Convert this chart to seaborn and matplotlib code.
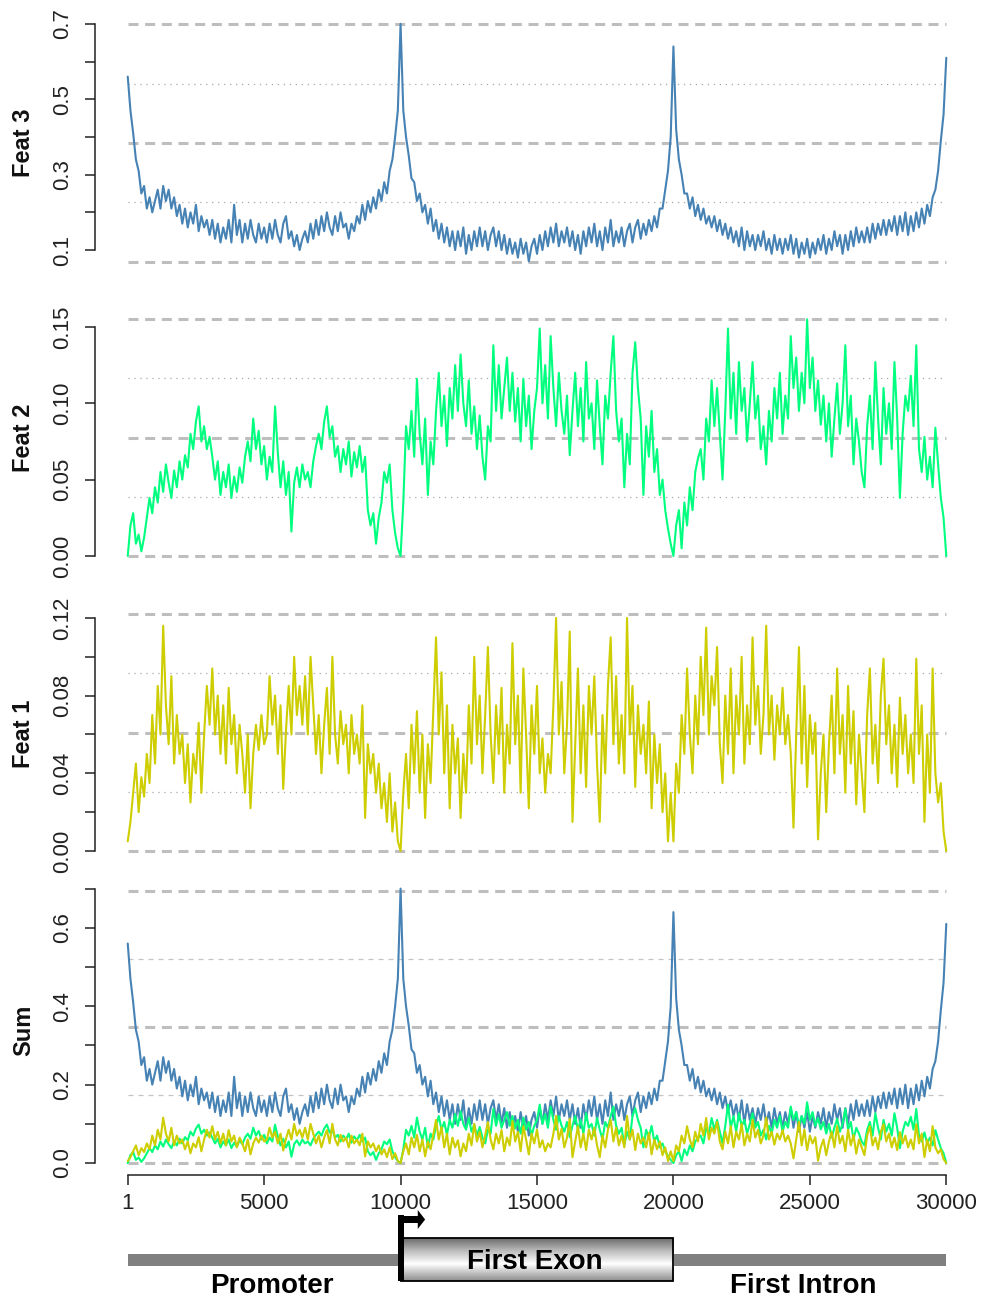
import numpy as np
import pandas as pd
import matplotlib
matplotlib.use("Agg")
import matplotlib.pyplot as plt
import seaborn as sns
from matplotlib.patches import Rectangle, Polygon
from matplotlib.colors import LinearSegmentedColormap

# ---------------- data (one value every 100 positions) ----------------
positions = [1] + list(range(100, 30001, 100))

feat3 = [
    0.56, 0.47, 0.41, 0.34, 0.31, 0.25, 0.27, 0.21, 0.24, 0.20,
    0.23, 0.26, 0.21, 0.27, 0.23, 0.26, 0.21, 0.24, 0.19, 0.22,
    0.17, 0.21, 0.16, 0.20, 0.17, 0.22, 0.15, 0.19, 0.16, 0.18,
    0.14, 0.18, 0.13, 0.17, 0.12, 0.16, 0.13, 0.18, 0.12, 0.22,
    0.14, 0.18, 0.12, 0.17, 0.13, 0.18, 0.14, 0.12, 0.17, 0.13,
    0.16, 0.12, 0.17, 0.13, 0.18, 0.14, 0.12, 0.17, 0.19, 0.13,
    0.15, 0.11, 0.14, 0.10, 0.13, 0.15, 0.12, 0.17, 0.13, 0.18,
    0.14, 0.19, 0.15, 0.20, 0.16, 0.14, 0.19, 0.15, 0.20, 0.16,
    0.17, 0.13, 0.17, 0.15, 0.19, 0.17, 0.22, 0.18, 0.23, 0.20,
    0.24, 0.21, 0.26, 0.23, 0.28, 0.25, 0.31, 0.34, 0.40, 0.47,
    0.70, 0.47, 0.40, 0.35, 0.29, 0.28, 0.23, 0.25, 0.20, 0.22,
    0.17, 0.21, 0.15, 0.18, 0.13, 0.17, 0.12, 0.16, 0.11, 0.15,
    0.10, 0.15, 0.11, 0.16, 0.09, 0.14, 0.10, 0.15, 0.11, 0.16,
    0.11, 0.15, 0.10, 0.14, 0.16, 0.11, 0.15, 0.10, 0.14, 0.09,
    0.13, 0.09, 0.12, 0.08, 0.13, 0.09, 0.12, 0.07, 0.11, 0.13,
    0.09, 0.14, 0.10, 0.15, 0.11, 0.16, 0.12, 0.17, 0.11, 0.15,
    0.12, 0.16, 0.11, 0.15, 0.10, 0.14, 0.09, 0.15, 0.11, 0.16,
    0.12, 0.17, 0.11, 0.15, 0.10, 0.16, 0.12, 0.18, 0.11, 0.15,
    0.12, 0.16, 0.11, 0.15, 0.17, 0.12, 0.16, 0.18, 0.13, 0.17,
    0.14, 0.18, 0.15, 0.19, 0.16, 0.21, 0.21, 0.26, 0.31, 0.40,
    0.64, 0.42, 0.34, 0.30, 0.25, 0.25, 0.21, 0.24, 0.19, 0.22,
    0.18, 0.21, 0.17, 0.19, 0.16, 0.19, 0.15, 0.18, 0.14, 0.17,
    0.13, 0.16, 0.12, 0.15, 0.11, 0.16, 0.10, 0.15, 0.11, 0.14,
    0.10, 0.14, 0.11, 0.15, 0.10, 0.13, 0.09, 0.14, 0.10, 0.13,
    0.09, 0.13, 0.10, 0.14, 0.09, 0.13, 0.08, 0.12, 0.09, 0.13,
    0.08, 0.12, 0.09, 0.13, 0.10, 0.14, 0.09, 0.13, 0.10, 0.15,
    0.11, 0.14, 0.09, 0.14, 0.10, 0.15, 0.11, 0.16, 0.12, 0.15,
    0.12, 0.16, 0.12, 0.17, 0.13, 0.17, 0.14, 0.18, 0.14, 0.18,
    0.15, 0.19, 0.14, 0.19, 0.15, 0.20, 0.14, 0.19, 0.15, 0.20,
    0.16, 0.21, 0.17, 0.22, 0.19, 0.24, 0.26, 0.31, 0.39, 0.46,
    0.61,
]

feat2 = [
    0.000, 0.020, 0.028, 0.008, 0.014, 0.003, 0.012, 0.025, 0.038, 0.028,
    0.045, 0.035, 0.055, 0.042, 0.060, 0.048, 0.038, 0.056, 0.045, 0.062,
    0.050, 0.066, 0.058, 0.080, 0.070, 0.088, 0.098, 0.075, 0.085, 0.070,
    0.078, 0.065, 0.050, 0.062, 0.040, 0.055, 0.045, 0.060, 0.038, 0.052,
    0.042, 0.058, 0.048, 0.065, 0.075, 0.062, 0.090, 0.070, 0.082, 0.060,
    0.072, 0.050, 0.065, 0.055, 0.098, 0.068, 0.045, 0.062, 0.040, 0.055,
    0.016, 0.048, 0.058, 0.045, 0.060, 0.050, 0.055, 0.045, 0.062, 0.072,
    0.080, 0.070, 0.088, 0.098, 0.078, 0.085, 0.065, 0.072, 0.055, 0.070,
    0.060, 0.075, 0.052, 0.068, 0.058, 0.072, 0.055, 0.065, 0.030, 0.020,
    0.028, 0.008, 0.025, 0.035, 0.055, 0.048, 0.060, 0.030, 0.015, 0.005,
    0.000, 0.035, 0.085, 0.070, 0.095, 0.065, 0.116, 0.080, 0.060, 0.090,
    0.040, 0.075, 0.060, 0.095, 0.120, 0.085, 0.105, 0.072, 0.110, 0.090,
    0.125, 0.095, 0.132, 0.100, 0.085, 0.115, 0.080, 0.098, 0.070, 0.092,
    0.065, 0.050, 0.085, 0.075, 0.138, 0.095, 0.125, 0.090, 0.110, 0.130,
    0.095, 0.120, 0.088, 0.110, 0.075, 0.116, 0.085, 0.105, 0.070, 0.095,
    0.110, 0.149, 0.100, 0.125, 0.090, 0.144, 0.110, 0.085, 0.120, 0.095,
    0.080, 0.105, 0.066, 0.095, 0.120, 0.085, 0.110, 0.075, 0.127, 0.090,
    0.100, 0.070, 0.115, 0.085, 0.060, 0.105, 0.090, 0.120, 0.144, 0.095,
    0.075, 0.090, 0.045, 0.080, 0.060, 0.120, 0.140, 0.110, 0.090, 0.040,
    0.085, 0.065, 0.095, 0.055, 0.070, 0.040, 0.050, 0.030, 0.018, 0.008,
    0.000, 0.020, 0.030, 0.005, 0.035, 0.020, 0.045, 0.030, 0.055, 0.064,
    0.070, 0.050, 0.090, 0.075, 0.115, 0.085, 0.110, 0.080, 0.050, 0.095,
    0.149, 0.090, 0.120, 0.080, 0.127, 0.095, 0.110, 0.075, 0.100, 0.127,
    0.090, 0.105, 0.070, 0.085, 0.060, 0.095, 0.075, 0.110, 0.090, 0.120,
    0.080, 0.105, 0.090, 0.144, 0.110, 0.130, 0.095, 0.120, 0.100, 0.155,
    0.110, 0.130, 0.095, 0.115, 0.086, 0.105, 0.075, 0.100, 0.065, 0.090,
    0.113, 0.080, 0.100, 0.138, 0.085, 0.105, 0.060, 0.090, 0.075, 0.055,
    0.045, 0.085, 0.105, 0.070, 0.127, 0.090, 0.060, 0.110, 0.080, 0.100,
    0.070, 0.127, 0.090, 0.038, 0.080, 0.105, 0.095, 0.118, 0.085, 0.138,
    0.070, 0.055, 0.078, 0.050, 0.065, 0.045, 0.084, 0.060, 0.038, 0.025,
    0.000,
]

feat1 = [
    0.005, 0.015, 0.030, 0.045, 0.020, 0.038, 0.028, 0.050, 0.035, 0.070,
    0.045, 0.085, 0.060, 0.116, 0.075, 0.055, 0.090, 0.045, 0.070, 0.050,
    0.060, 0.035, 0.055, 0.025, 0.050, 0.040, 0.066, 0.030, 0.060, 0.085,
    0.065, 0.094, 0.060, 0.080, 0.050, 0.075, 0.045, 0.084, 0.055, 0.070,
    0.040, 0.065, 0.050, 0.030, 0.060, 0.022, 0.050, 0.065, 0.052, 0.070,
    0.055, 0.060, 0.090, 0.065, 0.080, 0.050, 0.075, 0.032, 0.062, 0.085,
    0.060, 0.100, 0.070, 0.085, 0.065, 0.090, 0.060, 0.100, 0.075, 0.050,
    0.070, 0.040, 0.065, 0.084, 0.050, 0.100, 0.060, 0.045, 0.072, 0.055,
    0.065, 0.040, 0.070, 0.050, 0.060, 0.045, 0.075, 0.017, 0.055, 0.040,
    0.050, 0.030, 0.045, 0.022, 0.035, 0.015, 0.040, 0.010, 0.025, 0.005,
    0.000, 0.030, 0.050, 0.022, 0.065, 0.040, 0.072, 0.030, 0.060, 0.017,
    0.055, 0.035, 0.072, 0.110, 0.060, 0.092, 0.040, 0.075, 0.022, 0.065,
    0.040, 0.058, 0.017, 0.050, 0.030, 0.075, 0.045, 0.100, 0.055, 0.080,
    0.040, 0.070, 0.105, 0.060, 0.035, 0.075, 0.050, 0.084, 0.030, 0.065,
    0.045, 0.107, 0.055, 0.080, 0.030, 0.094, 0.060, 0.022, 0.075, 0.050,
    0.085, 0.040, 0.058, 0.030, 0.050, 0.040, 0.075, 0.120, 0.060, 0.087,
    0.040, 0.065, 0.113, 0.015, 0.055, 0.094, 0.040, 0.075, 0.033, 0.085,
    0.060, 0.090, 0.045, 0.015, 0.070, 0.040, 0.085, 0.110, 0.055, 0.090,
    0.045, 0.070, 0.040, 0.120, 0.060, 0.085, 0.033, 0.075, 0.050, 0.065,
    0.040, 0.077, 0.022, 0.060, 0.035, 0.055, 0.020, 0.040, 0.005, 0.030,
    0.005, 0.045, 0.030, 0.070, 0.050, 0.094, 0.060, 0.040, 0.080, 0.055,
    0.100, 0.070, 0.115, 0.060, 0.090, 0.075, 0.105, 0.055, 0.035, 0.080,
    0.050, 0.094, 0.040, 0.080, 0.060, 0.100, 0.045, 0.075, 0.055, 0.110,
    0.065, 0.085, 0.050, 0.070, 0.116, 0.060, 0.080, 0.047, 0.075, 0.060,
    0.084, 0.055, 0.070, 0.050, 0.012, 0.060, 0.105, 0.045, 0.085, 0.033,
    0.070, 0.050, 0.066, 0.006, 0.040, 0.060, 0.020, 0.055, 0.080, 0.040,
    0.094, 0.050, 0.070, 0.030, 0.085, 0.045, 0.072, 0.024, 0.060, 0.040,
    0.020, 0.070, 0.094, 0.045, 0.065, 0.035, 0.080, 0.099, 0.055, 0.075,
    0.040, 0.065, 0.033, 0.079, 0.050, 0.070, 0.040, 0.060, 0.035, 0.099,
    0.050, 0.075, 0.015, 0.060, 0.030, 0.094, 0.040, 0.025, 0.035, 0.010,
    0.000,
]

panel_names = ["Feat 3", "Feat 2", "Feat 1", "Sum"]
x_ticks = [1, 5000, 10000, 15000, 20000, 25000, 30000]
x_tick_labels = ["1", "5000", "10000", "15000", "20000", "25000", "30000"]

feat3_ticks = [0.1, 0.2, 0.3, 0.4, 0.5, 0.6, 0.7]
feat3_labels = ["0.1", "", "0.3", "", "0.5", "", "0.7"]
feat2_ticks = [0.00, 0.05, 0.10, 0.15]
feat2_labels = ["0.00", "0.05", "0.10", "0.15"]
feat1_ticks = [0.00, 0.02, 0.04, 0.06, 0.08, 0.10, 0.12]
feat1_labels = ["0.00", "", "0.04", "", "0.08", "", "0.12"]
sum_ticks = [0.0, 0.1, 0.2, 0.3, 0.4, 0.5, 0.6, 0.7]
sum_labels = ["0.0", "", "0.2", "", "0.4", "", "0.6", ""]

feat3_grid = [0.069, 0.2265, 0.384, 0.5415, 0.699]
feat2_grid = [0.0, 0.0388, 0.0775, 0.1163, 0.155]
feat1_grid = [0.0, 0.0305, 0.061, 0.0915, 0.122]
sum_grid = [0.0, 0.1735, 0.347, 0.5205, 0.694]

region_names = ["Promoter", "First Exon", "First Intron"]
exon_start, exon_end = 10000, 20000

# ---------------- style ----------------
BLUE, GREEN, YELLOW = "#4682B4", "#00FF7F", "#CDCD00"
GRIDC = "#BEBEBE"
sns.set_style("white")
plt.rcParams["font.family"] = ["Liberation Sans", "DejaVu Sans"]
plt.rcParams["lines.scale_dashes"] = False

W, H = 984, 1302
fig = plt.figure(figsize=(W / 100, H / 100), dpi=100)
XLIM = (-1199, 31199)
LEFT_PX, RIGHT_PX = 95, 979


def add_axes(top, bottom):
    return fig.add_axes([LEFT_PX / W, 1 - bottom / H, (RIGHT_PX - LEFT_PX) / W, (bottom - top) / H])


DASH = dict(linestyles=[(0, (7.2, 4.8))], linewidths=2.2, colors=GRIDC)
DOT = dict(linestyles=[(0, (0.9, 3.4))], linewidths=0.9, colors="#A8A8A8")
SDASH = dict(linestyles=[(0, (3.6, 3.6))], linewidths=0.9, colors="#C4C4C4")

panels = [
    dict(name=panel_names[0], series=[(feat3, BLUE)], ylim=(0.05, 0.72), px=(16.3, 268.9),
         ticks=feat3_ticks, labels=feat3_labels, grid=feat3_grid, minor=DOT),
    dict(name=panel_names[1], series=[(feat2, GREEN)], ylim=(-0.005, 0.16), px=(311.7, 563.6),
         ticks=feat2_ticks, labels=feat2_labels, grid=feat2_grid, minor=DOT),
    dict(name=panel_names[2], series=[(feat1, YELLOW)], ylim=(-0.004, 0.125), px=(608.2, 858.8),
         ticks=feat1_ticks, labels=feat1_labels, grid=feat1_grid, minor=DOT),
    dict(name=panel_names[3], series=[(feat3, BLUE), (feat2, GREEN), (feat1, YELLOW)],
         ylim=(-0.031, 0.71), px=(884.7, 1175.2),
         ticks=sum_ticks, labels=sum_labels, grid=sum_grid, minor=SDASH),
]

for k, p in enumerate(panels):
    ax = add_axes(*p["px"])
    g = p["grid"]
    ax.hlines([g[0], g[2], g[4]], 1, 30000, zorder=1, **DASH)
    ax.hlines([g[1], g[3]], 1, 30000, zorder=1, **p["minor"])
    for vals, col in p["series"]:
        df = pd.DataFrame({"pos": positions, "val": vals})
        sns.lineplot(data=df, x="pos", y="val", ax=ax, color=col, linewidth=1.5,
                     estimator=None, zorder=3)
    ax.set_xlim(*XLIM)
    ax.set_ylim(*p["ylim"])
    ax.set_yticks(p["ticks"])
    ax.set_yticklabels(p["labels"])
    for lab in ax.get_yticklabels():
        lab.set_rotation(90)
        lab.set_va("center")
        lab.set_ha("right")
    ax.tick_params(axis="y", direction="out", length=7, width=1.1, colors="#222222",
                   labelsize=16, pad=9, left=True)
    for s in ["top", "right"]:
        ax.spines[s].set_visible(False)
    ax.spines["left"].set_bounds(p["ticks"][0], p["ticks"][-1])
    ax.spines["left"].set_color("#222222")
    ax.spines["left"].set_linewidth(1.1)
    ax.set_ylabel(p["name"], fontsize=17, fontweight="bold", color="#111111", va="center")
    ax.yaxis.set_label_coords((24 - LEFT_PX) / (RIGHT_PX - LEFT_PX), 0.5)
    if k < 3:
        ax.spines["bottom"].set_visible(False)
        ax.set_xticks([])
        ax.set_xlabel("")
    else:
        ax.set_xticks(x_ticks)
        ax.set_xticklabels(x_tick_labels)
        ax.tick_params(axis="x", direction="out", length=7, width=1.1, colors="#222222",
                       labelsize=16, pad=6, bottom=True)
        ax.spines["bottom"].set_bounds(1, 30000)
        ax.spines["bottom"].set_color("#222222")
        ax.spines["bottom"].set_linewidth(1.1)
        ax.set_xlabel("")

# ---------------- gene structure diagram ----------------
dax = fig.add_axes([LEFT_PX / W, 0, (RIGHT_PX - LEFT_PX) / W, 112 / H])
dax.set_xlim(*XLIM)
dax.set_ylim(1302, 1190)
dax.axis("off")

dax.add_patch(Rectangle((1, 1254), 29999, 12, color="#808080", lw=0, zorder=1))
cmap = LinearSegmentedColormap.from_list(
    "exon", [(0.0, "#6a6a6a"), (0.3, "#bdbdbd"), (0.6, "#ffffff"), (1.0, "#8c8c8c")])
grad = np.linspace(0, 1, 256).reshape(-1, 1)
dax.imshow(grad, extent=[exon_start, exon_end, 1281, 1238], cmap=cmap, aspect="auto",
           origin="upper", zorder=2, interpolation="bilinear")
dax.add_patch(Rectangle((exon_start, 1238), exon_end - exon_start, 43, fill=False,
                        ec="black", lw=1.3, zorder=3))
dax.add_patch(Rectangle((exon_start - 100, 1215), 220, 66, color="black", lw=0, zorder=4))
dax.add_patch(Rectangle((exon_start - 100, 1216), 740, 7, color="black", lw=0, zorder=4))
dax.add_patch(Polygon([(exon_start + 630, 1210), (exon_start + 900, 1219.5),
                       (exon_start + 630, 1229)], closed=True, color="black", lw=0, zorder=4))
dax.set_xlim(*XLIM)
dax.set_ylim(1302, 1190)

dax.text(5281, 1286, region_names[0], ha="center", va="center", fontsize=20,
         fontweight="bold", color="black", zorder=5)
dax.text(14926, 1262, region_names[1], ha="center", va="center", fontsize=20,
         fontweight="bold", color="black", zorder=5)
dax.text(24754, 1286, region_names[2], ha="center", va="center", fontsize=20,
         fontweight="bold", color="black", zorder=5)

fig.savefig("out.png", dpi=100)
